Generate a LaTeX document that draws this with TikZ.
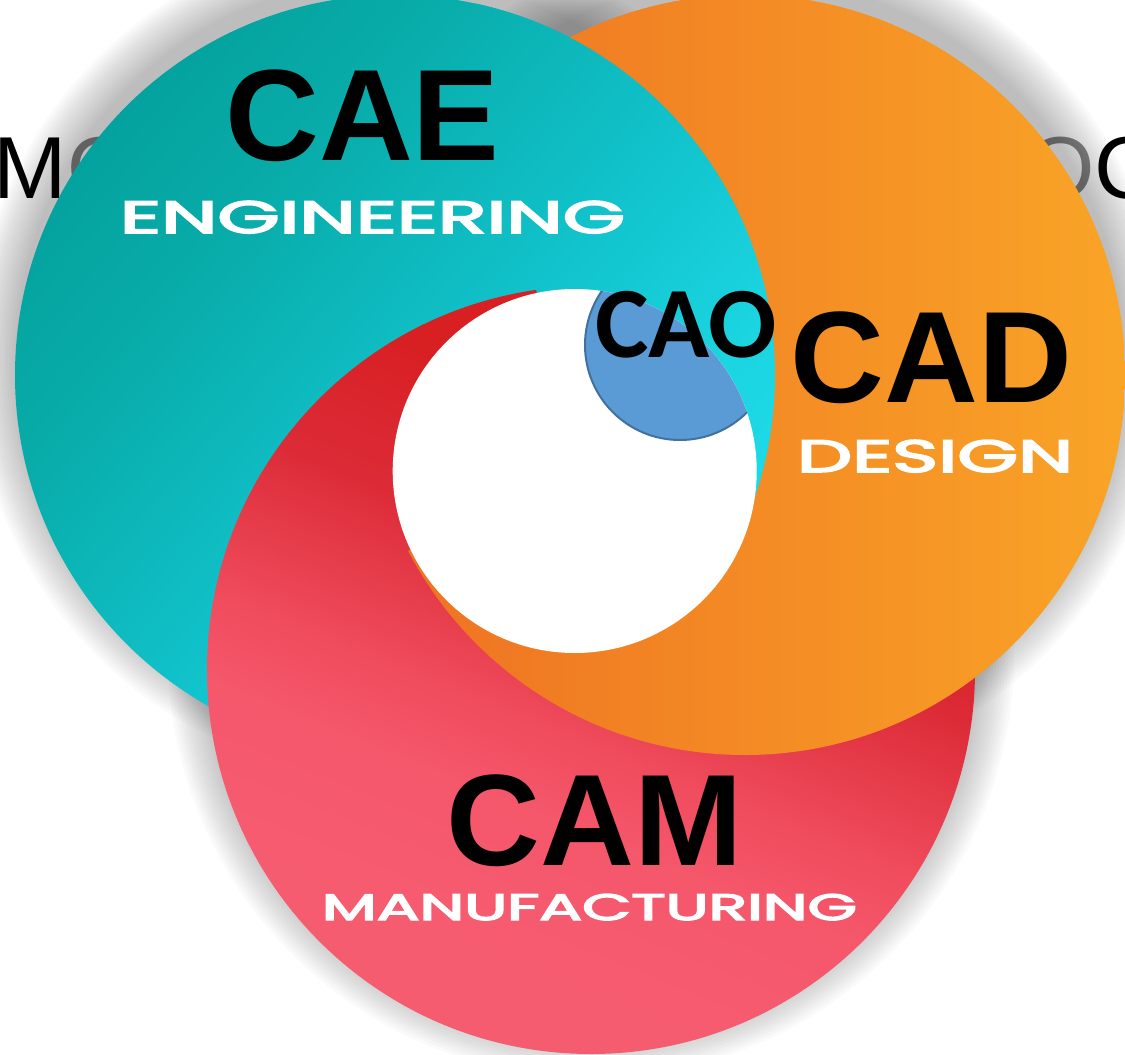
\documentclass[tikz,border=0pt]{standalone}
\usepackage{fontspec}
\setmainfont{Liberation Sans}
\newfontfamily\carlito{Carlito}
\newfontfamily\subfont{Poppins}[FakeBold=3.5]

\definecolor{tealA}{HTML}{04A29E}
\definecolor{tealB}{HTML}{08ABA8}
\definecolor{tealC}{HTML}{12C5CF}
\definecolor{tealD}{HTML}{1BD5E1}
\definecolor{tealE}{HTML}{1EDBE8}
\definecolor{orA}{HTML}{EE7022}
\definecolor{orB}{HTML}{F9A427}
\definecolor{pkA}{HTML}{F65C70}
\definecolor{pkB}{HTML}{F5576B}
\definecolor{pkC}{HTML}{F04D5E}
\definecolor{rdB}{HTML}{DC2B37}
\definecolor{rdA}{HTML}{D81F22}
\definecolor{caoblue}{HTML}{5B9BD5}
\definecolor{caoline}{HTML}{41719C}
\definecolor{fadegray}{HTML}{8C8C8C}

\pgfdeclareverticalshading{tealsh}{100bp}{color(0bp)=(tealA); color(25bp)=(tealA); color(35bp)=(tealB); color(55bp)=(tealC); color(66bp)=(tealD); color(75bp)=(tealE); color(100bp)=(tealE)}
\pgfdeclareverticalshading{orsh}{100bp}{color(0bp)=(orA); color(25bp)=(orA); color(75bp)=(orB); color(100bp)=(orB)}
\pgfdeclareverticalshading{redsh}{100bp}{color(0bp)=(pkA); color(30bp)=(pkA); color(40bp)=(pkB); color(45bp)=(pkC); color(56bp)=(rdB); color(66bp)=(rdA); color(100bp)=(rdA)}

\newcommand\tealdisc{\shade[shading=tealsh, shading angle=-131] (395,375) circle[radius=380pt];}
\newcommand\orangedisc{\shade[shading=orsh, shading angle=-90] (745,375) circle[radius=380pt];}
\newcommand\reddisc{\shade[shading=redsh, shading angle=-22] (591,670) circle[radius=384pt];}

\tikzset{
  bigtitle/.style={anchor=base, inner sep=0pt, text=black, font=\fontsize{130}{130}\selectfont\bfseries},
  subtitle/.style={anchor=base, inner sep=0pt, text=white, font=\subfont},
  bgword/.style={anchor=base west, inner sep=0pt, font=\fontsize{88}{88}\selectfont},
  shadowring/.style={fill=black, opacity=0.02}
}

\begin{document}
\begin{tikzpicture}[x=1pt,y=-1pt]
\useasboundingbox (0,0) rectangle (1125,1055);
\clip (0,0) rectangle (1125,1055);

% background words, partly hidden
\node[bgword] (wleft) at (-6.5,198) {\textcolor{black}{M}\textcolor{fadegray}{O}};
\node[bgword] (wright) at (1026,198) {\textcolor{fadegray}{O}\textcolor{black}{C}};

% soft shadows (light from below)
\foreach \k in {1,...,15}{
  \fill[shadowring] (395,357) circle[radius=380pt+45pt-3pt*\k];
  \fill[shadowring] (745,357) circle[radius=380pt+45pt-3pt*\k];
  \fill[shadowring] (591,655) circle[radius=384pt+42pt-3pt*\k];
}

% base layer: orange, teal, red
\orangedisc
\tealdisc
\reddisc

% orange on top everywhere except the left sector
\begin{scope}
  \clip (574.7,471) -- (227.7,-1339) -- (2670,-1674) -- (2377.7,741)
        -- (965,3445) -- (-1072.3,1261) -- cycle;
  \orangedisc
\end{scope}

% teal on top in the upper-right sector
\begin{scope}
  \clip (574.7,471) -- (190.1,-1338.5) -- (2670,-1674) -- (2377.7,741) -- cycle;
  \tealdisc
\end{scope}

% white centre and CAO disc
\fill[white] (574.7,471) circle[radius=182pt];
\begin{scope}
  \clip (574.7,471) circle[radius=182pt];
  \filldraw[fill=caoblue, draw=caoline, line width=2pt] (680,345) circle[radius=95pt];
\end{scope}

% titles
\node[bigtitle] (cae) at (362.5,160) {CAE};
\node[bigtitle] (cad) at (931.5,402) {CAD};
\node[bigtitle] (cam) at (595,865) {CAM};
\node[anchor=base, inner sep=0pt, font=\carlito\fontsize{101}{101}\selectfont\bfseries] (cao) at (686,357) {CAO};

% subtitles
\node[subtitle] (eng) at (372.5,233) {\resizebox{505pt}{32pt}{ENGINEERING}};
\node[subtitle] (des) at (935,472) {\resizebox{276pt}{32pt}{DESIGN}};
\node[subtitle] (man) at (589.5,920) {\resizebox{535pt}{26pt}{MANUFACTURING}};
\end{tikzpicture}
\end{document}
